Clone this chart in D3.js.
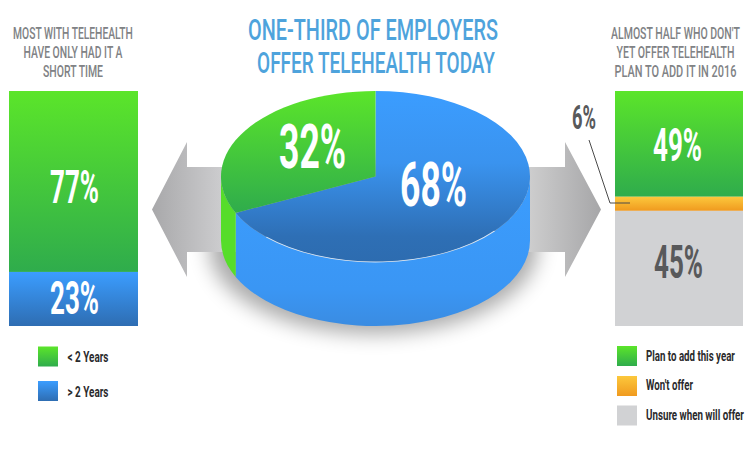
<!DOCTYPE html>
<html><head><meta charset="utf-8">
<script src="https://cdn.jsdelivr.net/npm/d3@7/dist/d3.min.js"></script>
<style>html,body{margin:0;padding:0;background:#fff}svg{display:block}
text{font-family:"Roboto","Liberation Sans",sans-serif}</style>
</head><body><div id="chart"></div>
<script>
const titleLines = ["ONE-THIRD OF EMPLOYERS", "OFFER TELEHEALTH TODAY"];
const leftHeading = ["MOST WITH TELEHEALTH", "HAVE ONLY HAD IT A", "SHORT TIME"];
const rightHeading = ["ALMOST HALF WHO DON'T", "YET OFFER TELEHEALTH", "PLAN TO ADD IT IN 2016"];
const pieCategories = ["Do not offer", "Offer"];
const pieValues = [68, 32];
const leftCategories = ["< 2 Years", "> 2 Years"];
const leftValues = [77, 23];
const rightCategories = ["Plan to add this year", "Won't offer", "Unsure when will offer"];
const rightLabels = [49, 6, 45];
const rightDrawnShares = [45, 6, 49]; // segment heights as printed in the picture

const W = 750, H = 450;
const svg = d3.select("#chart").append("svg").attr("width", W).attr("height", H).attr("viewBox", `0 0 ${W} ${H}`);
const defs = svg.append("defs");
function grad(id, stops, x2 = 0, y2 = 1) {
  const g = defs.append("linearGradient").attr("id", id).attr("x1", 0).attr("y1", 0).attr("x2", x2).attr("y2", y2);
  stops.forEach(([o, c]) => g.append("stop").attr("offset", o).attr("stop-color", c));
}
grad("green", [[0, "#5be52a"], [1, "#2fac4c"]]);
grad("blue", [[0, "#3b9dff"], [1, "#2e6db2"]]);
grad("blueTop", [[0, "#3b9dff"], [.42, "#3a93ef"], [.85, "#2e6fb5"], [1, "#2d6cb0"]]);
grad("orange", [[0, "#fcc83c"], [1, "#f09a1f"]]);
grad("wall", [[0, "#3b9dff"], [.75, "#3a96f4"], [1, "#3a8ce2"]]);
grad("arrowL", [[0, "#a8a8aa"], [1, "#d6d6d8"]], 1, 0);
grad("arrowR", [[0, "#d8d8d8"], [1, "#a6a6a8"]], 1, 0);
defs.append("filter").attr("id", "soft").attr("x", "-30%").attr("y", "-50%").attr("width", "160%").attr("height", "200%")
  .append("feGaussianBlur").attr("stdDeviation", 10);

const GRAY = "#808285", DARK = "#58595b", WHITE = "#fff", INK = "#2a2a2c";

// Text squeezed horizontally to a measured width
function label(t, x, base, size, width, fill, weight = "bold", anchor = "middle") {
  const el = svg.append("text").attr("text-anchor", anchor)
    .attr("font-size", size).attr("font-weight", weight).attr("fill", fill).text(t);
  const natural = el.node().getComputedTextLength();
  el.attr("transform", `translate(${x},${base}) scale(${width / natural},1)`);
  return el;
}

// Pie geometry
const cx = 375.5, cy = 176.5, rx = 154.5, ry = 85.5, depth = 64;

// Shadow
svg.append("ellipse").attr("cx", cx - 2).attr("cy", cy + depth + 6).attr("rx", rx + 10).attr("ry", ry + 2)
  .attr("fill", "#000").attr("opacity", .33).attr("filter", "url(#soft)");

// Arrows
const arrowGen = d3.line();
const shaftTop = 167, shaftBot = 252, headTop = 142, headBot = 277, tipY = 209.5;
svg.append("path").attr("fill", "url(#arrowL)")
  .attr("d", arrowGen([[152, tipY], [187, headTop], [187, shaftTop], [240, shaftTop], [240, shaftBot], [187, shaftBot], [187, headBot]]) + "Z");
svg.append("path").attr("fill", "url(#arrowR)")
  .attr("d", arrowGen([[510, shaftTop], [565, shaftTop], [565, headTop], [601, tipY], [565, headBot], [565, shaftBot], [510, shaftBot]]) + "Z");

// 3D pie
const pieLayout = d3.pie().sort(null).startAngle(0).endAngle(2 * Math.PI);
const slices = pieLayout(pieValues);
const k = ry / rx;
const pieG = svg.append("g").attr("transform", `translate(${cx},${cy}) scale(1,${k})`);
const depthS = depth / k;
const toCanvas = a => a - Math.PI / 2;
const wallFills = ["url(#wall)", "#56dd2a"];
slices.forEach((s, i) => {
  const a0 = Math.max(s.startAngle, Math.PI / 2), a1 = Math.min(s.endAngle, 3 * Math.PI / 2);
  if (a1 <= a0) return;
  const p = d3.path();
  p.arc(0, 0, rx, toCanvas(a0), toCanvas(a1));
  p.arc(0, depthS, rx, toCanvas(a1), toCanvas(a0), true);
  p.closePath();
  pieG.append("path").attr("d", p.toString()).attr("fill", wallFills[i]);
});
const arcGen = d3.arc().innerRadius(0).outerRadius(rx);
const topFills = ["url(#blueTop)", "url(#green)"];
pieG.selectAll("path.top").data(slices).join("path").attr("class", "top")
  .attr("d", arcGen).attr("fill", (d, i) => topFills[i]);
// Highlight along the front rim of the blue slice
const rim = d3.path();
rim.arc(0, 0, rx, toCanvas(Math.PI * .72), toCanvas(Math.PI * 1.25));
pieG.append("path").attr("d", rim.toString()).attr("fill", "none").attr("stroke", "#eef5fc")
  .attr("stroke-width", 1.4).attr("opacity", .85);

// Stacked bars
const y = d3.scaleLinear().domain([0, 100]).range([91, 326]);
function stack(x0, x1, shares, fills) {
  let acc = 0;
  const rows = shares.map((v, i) => { const r = { a: acc, b: acc + v, fill: fills[i] }; acc += v; return r; });
  svg.append("g").selectAll("rect").data(rows).join("rect")
    .attr("x", x0).attr("width", x1 - x0)
    .attr("y", d => y(d.a)).attr("height", d => y(d.b) - y(d.a))
    .attr("fill", d => d.fill);
}
stack(9, 138, leftValues, ["url(#green)", "url(#blue)"]);
stack(615, 743, rightDrawnShares, ["url(#green)", "url(#orange)", "#d1d2d4"]);

// Leader line for the small segment
svg.append("path").attr("d", d3.line()([[589, 140], [610, 203], [630, 203]]))
  .attr("fill", "none").attr("stroke", "#4a4a4a").attr("stroke-width", 1);

// Headings and title
leftHeading.forEach((t, i) => label(t, 73, [38.5, 57.5, 76.5][i], 16, [120, 99, 60][i], GRAY, 500));
rightHeading.forEach((t, i) => label(t, 675.5, [38.5, 57.5, 76.5][i], 16, [129, 118, 122][i], GRAY, 500));
titleLines.forEach((t, i) => label(t, [373, 376][i], [39.5, 73][i], 29, [250, 238][i], "#4ea3dc", 500));

// Value labels
const pct = v => v + "%";
label(pct(leftValues[0]), 74.5, 203, 46, 49, WHITE);
label(pct(leftValues[1]), 74.5, 314, 46, 49, WHITE);
label(pct(pieValues[1]), 312.5, 168, 61, 67, WHITE);
label(pct(pieValues[0]), 433.5, 206, 61, 67, WHITE);
label(pct(rightLabels[0]), 677.5, 161, 46, 49, WHITE);
label(pct(rightLabels[2]), 678.5, 278, 46, 49, DARK);
label(pct(rightLabels[1]), 584, 129, 34, 24, DARK);

// Legends
function legend(x, tx, rows) {
  rows.forEach(r => {
    svg.append("rect").attr("x", x).attr("y", r.y).attr("width", 20).attr("height", r.h).attr("fill", r.fill);
    label(r.t, tx, r.base, 14, r.w, INK, "bold", "start");
  });
}
legend(38, 67.5, [
  { t: leftCategories[0], y: 346.5, h: 20, base: 362, fill: "url(#green)", w: 41 },
  { t: leftCategories[1], y: 381, h: 20, base: 397, fill: "url(#blue)", w: 41 }
]);
legend(617, 646, [
  { t: rightCategories[0], y: 346, h: 20, base: 361, fill: "url(#green)", w: 89 },
  { t: rightCategories[1], y: 376, h: 20, base: 390, fill: "url(#orange)", w: 47 },
  { t: rightCategories[2], y: 405.5, h: 20, base: 420, fill: "#d1d2d4", w: 98 }
]);
</script></body></html>
